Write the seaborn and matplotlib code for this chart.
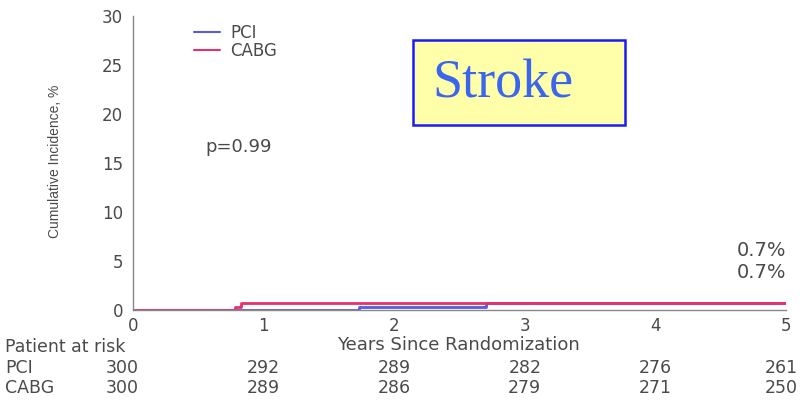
import matplotlib
matplotlib.use("Agg")
import matplotlib.pyplot as plt
import matplotlib.transforms as mtransforms
from matplotlib.patches import Rectangle
from matplotlib.lines import Line2D
import seaborn as sns
import pandas as pd

# ---- data ----
pci_years = [0, 1.73, 2.70, 5.0]
pci_incidence = [0.0, 0.34, 0.68, 0.68]
cabg_years = [0, 0.78, 0.83, 5.0]
cabg_incidence = [0.0, 0.34, 0.68, 0.68]
x_ticks = [0, 1, 2, 3, 4, 5]
y_ticks = [0, 5, 10, 15, 20, 25, 30]
risk_pci = [300, 292, 289, 282, 276, 261]
risk_cabg = [300, 289, 286, 279, 271, 250]
final_labels = ["0.7%", "0.7%"]
p_text = "p=0.99"
title_text = "Stroke"

sns.set_style("white")
plt.rcParams['font.family'] = ['DejaVu Sans']

df = pd.concat([
    pd.DataFrame({"Years": pci_years, "Inc": pci_incidence, "Group": "PCI"}),
    pd.DataFrame({"Years": cabg_years, "Inc": cabg_incidence, "Group": "CABG"}),
])

fig = plt.figure(figsize=(8.07, 4.04), dpi=100)
ax = fig.add_axes([133/807, 1-310/404, 653/807, 294/404])

palette = {"PCI": "#5a5ae0", "CABG": "#e8306e"}
sns.lineplot(data=df, x="Years", y="Inc", hue="Group", palette=palette,
             drawstyle="steps-post", linewidth=2.0, ax=ax, legend=False,
             estimator=None, sort=False)

ax.set_xlim(0, 5)
ax.set_ylim(0, 30)
ax.set_xticks(x_ticks)
ax.set_yticks(y_ticks)
tc = "#4a4a4a"
ax.tick_params(axis="both", labelsize=12, colors=tc, length=3, width=0.8,
               direction="out", pad=4)
ax.tick_params(axis="x", pad=2)
for s in ["top", "right"]:
    ax.spines[s].set_visible(False)
for s in ["left", "bottom"]:
    ax.spines[s].set_color("#888888")
    ax.spines[s].set_linewidth(1.0)
ax.set_xlabel("")
ax.set_ylabel("Cumulative Incidence, %", fontsize=10, color=tc,
              family="Liberation Sans")
ax.yaxis.set_label_coords(-71/653, 0.507)
ax.patch.set_alpha(0)

# Legend
handles = [Line2D([], [], color=palette["PCI"], lw=1.5),
           Line2D([], [], color=palette["CABG"], lw=1.5)]
leg = ax.legend(handles, ["PCI", "CABG"], loc="upper left",
                bbox_to_anchor=(54/653, 0.995), frameon=False, fontsize=12,
                handlelength=1.6, handletextpad=0.6, labelspacing=0.0,
                borderaxespad=0)
for t in leg.get_texts():
    t.set_color(tc)

# p value
fig.text(205/807, 1-147/404, p_text, fontsize=13, color=tc, va="center", ha="left")

# final percentages
fig.text(786/807, 1-250/404, final_labels[0], fontsize=14, color=tc, va="center", ha="right")
fig.text(786/807, 1-272/404, final_labels[1], fontsize=14, color=tc, va="center", ha="right")

# Title box
fig.patches.append(Rectangle((413/807, 1-125/404), 212/807, 85/404,
                             transform=fig.transFigure, facecolor="#ffffaa",
                             edgecolor="#1a1aff", linewidth=1.8))
fig.text(432/807, 1-84/404, title_text, fontsize=39, color="#3a66ee",
         family="Liberation Serif", va="center", ha="left")

# x label
fig.text(458/807, 1-345/404, "Years Since Randomization", fontsize=13,
         color=tc, va="center", ha="center")

# risk table
trans = mtransforms.blended_transform_factory(ax.transData, fig.transFigure)
fs_t = 12.5
fig.text(5/807, 1-347/404, "Patient at risk", fontsize=fs_t, color=tc, va="center")
fig.text(5/807, 1-368/404, "PCI", fontsize=fs_t, color=tc, va="center")
fig.text(5/807, 1-388/404, "CABG", fontsize=fs_t, color=tc, va="center")
for xv, a, b in zip(x_ticks, risk_pci, risk_cabg):
    ha = "center"
    xx = xv
    if xv == 0:
        xx = -0.084
    if xv == 5:
        ha = "right"
        xx = 5.09
    ax.text(xx, 1-368/404, str(a), transform=trans, fontsize=fs_t, color=tc,
            va="center", ha=ha)
    ax.text(xx, 1-388/404, str(b), transform=trans, fontsize=fs_t, color=tc,
            va="center", ha=ha)

fig.savefig("out.png", dpi=100)
